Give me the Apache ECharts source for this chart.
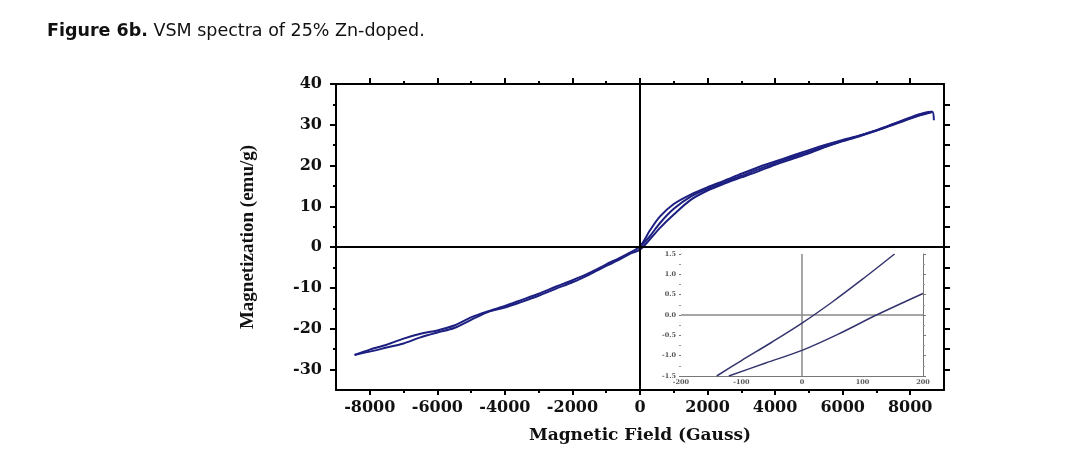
<!DOCTYPE html>
<html>
<head>
<meta charset="utf-8">
<script src="https://cdn.jsdelivr.net/npm/echarts@6/dist/echarts.min.js"></script>
<style>html,body{margin:0;padding:0;background:#fff;}#c{width:1086px;height:472px;}</style>
</head>
<body>
<div id="c"></div>
<script>
// ---- Main hysteresis loop (Magnetic Field in Gauss, Magnetization in emu/g) ----
const fieldDesc = [8650, 8400, 8000, 7500, 7000, 6500, 6000, 5500, 5000, 4500, 4000, 3500, 3000, 2500, 2000, 1500, 1000, 600, 300, 0, -300, -600, -1000, -1500, -2000, -2500, -3000, -3500, -4000, -4500, -5000, -5500, -6000, -6500, -7000, -7500, -8000, -8450];
const magDesc   = [33.2, 32.7, 31.5, 30.0, 28.6, 27.4, 26.3, 25.1, 23.8, 22.4, 21.0, 19.6, 18.0, 16.3, 14.7, 12.9, 10.6, 7.6, 4.2, 0.2, -1.3, -2.6, -4.2, -6.3, -8.1, -9.7, -11.4, -12.9, -14.4, -15.7, -17.2, -19.2, -20.4, -21.2, -22.4, -23.9, -25.1, -26.4];
const fieldAsc  = [-8450, -8000, -7500, -7000, -6500, -6000, -5500, -5000, -4500, -4000, -3500, -3000, -2500, -2000, -1500, -1000, -600, -300, 0, 300, 600, 1000, 1500, 2000, 2500, 3000, 3500, 4000, 4500, 5000, 5500, 6000, 6500, 7000, 7500, 8000, 8400, 8650, 8700];
const magAsc    = [-26.4, -25.6, -24.6, -23.6, -22.1, -20.9, -19.8, -17.8, -15.9, -14.8, -13.4, -11.9, -10.2, -8.6, -6.7, -4.6, -3.0, -1.6, -0.6, 2.0, 4.8, 8.0, 11.6, 13.9, 15.6, 17.1, 18.6, 20.2, 21.6, 23.0, 24.6, 26.0, 27.2, 28.6, 30.2, 31.8, 32.9, 33.2, 31.1];
const fieldInit = [0, 300, 600, 1000, 1500, 2000, 3000, 4000, 5000, 6000, 7000, 8000, 8650];
const magInit   = [0, 2.8, 6.0, 9.4, 12.4, 14.3, 17.5, 20.6, 23.4, 26.0, 28.7, 31.6, 33.1];

// ---- Inset (zoom near origin) ----
const insetFieldA = [-141, -100, -50, 0, 50, 100, 153];
const insetMagA   = [-1.5, -1.12, -0.67, -0.2, 0.32, 0.88, 1.5];
const insetFieldB = [-121, -60, 0, 60, 123, 200];
const insetMagB   = [-1.5, -1.18, -0.87, -0.47, 0.0, 0.53];

// ---- Tick labels ----
const xTickLabels = [-8000, -6000, -4000, -2000, 0, 2000, 4000, 6000, 8000];
const xMinorTicks = [-7000, -5000, -3000, -1000, 1000, 3000, 5000, 7000];
const yTickLabels = [-30, -20, -10, 0, 10, 20, 30, 40];
const yMinorTicks = [-25, -15, -5, 5, 15, 25, 35];
const yRightTicks = [-30, -25, -20, -15, -10, -5, 0, 5, 10, 15, 20, 25, 30, 35];
const insetXTicks = [-200, -100, 0, 100, 200];
const insetYTicks = [-1.5, -1.0, -0.5, 0.0, 0.5, 1.0, 1.5];

const zip = (a, b) => a.map((v, i) => [v, b[i]]);

const lineColor = '#1c1f80';
const serif = 'DejaVu Serif';
const black = '#000';

function xAx(opts) {
  return Object.assign({
    type: 'value', gridIndex: 0, min: -9000, max: 9000,
    axisLine: { show: false, onZero: false },
    splitLine: { show: false },
    axisLabel: { show: false },
    axisTick: { show: false }
  }, opts);
}
function yAx(opts) {
  return Object.assign({
    type: 'value', gridIndex: 0, min: -35, max: 40,
    axisLine: { show: false, onZero: false },
    splitLine: { show: false },
    axisLabel: { show: false },
    axisTick: { show: false }
  }, opts);
}

const chart = echarts.init(document.getElementById('c'), null, { renderer: 'canvas' });
chart.setOption({
  animation: false,
  backgroundColor: '#fff',
  title: {
    left: 42, top: 17,
    text: '{b|Figure 6b.}{n| VSM spectra of 25% Zn-doped.}',
    textStyle: {
      rich: {
        b: { fontFamily: 'DejaVu Sans', fontWeight: 'bold', fontSize: 17.5, color: '#111' },
        n: { fontFamily: 'DejaVu Sans', fontWeight: 'normal', fontSize: 17.5, color: '#111' }
      }
    }
  },
  grid: [
    { left: 336, top: 84, width: 608, height: 306, show: false },
    { left: 681, top: 254, width: 242, height: 122, show: true, backgroundColor: '#fff', borderWidth: 0, z: 5 }
  ],
  xAxis: [
    // 0: bottom main axis with labels and major ticks
    xAx({
      position: 'bottom',
      name: 'Magnetic Field (Gauss)', nameLocation: 'middle', nameGap: 37,
      nameTextStyle: { fontFamily: serif, fontWeight: 'bold', fontSize: 17, color: '#111' },
      axisLine: { show: true, onZero: false, lineStyle: { color: black, width: 2 } },
      axisTick: { show: true, customValues: xTickLabels, length: 5, lineStyle: { color: black, width: 2 } },
      axisLabel: { show: true, customValues: xTickLabels, margin: 10, fontFamily: serif, fontWeight: 'bold', fontSize: 16, color: '#111',
        formatter: v => String(v) }
    }),
    // 1: bottom minor ticks
    xAx({ position: 'bottom', axisTick: { show: true, customValues: xMinorTicks, length: 3, lineStyle: { color: black, width: 2 } } }),
    // 2: top major ticks
    xAx({ position: 'top',
      axisLine: { show: true, onZero: false, lineStyle: { color: black, width: 2 } },
      axisTick: { show: true, customValues: xTickLabels, length: 6, lineStyle: { color: black, width: 2 } } }),
    // 3: top minor ticks
    xAx({ position: 'top', axisTick: { show: true, customValues: xMinorTicks, length: 3, lineStyle: { color: black, width: 2 } } }),
    // 4: inset bottom
    {
      type: 'value', gridIndex: 1, min: -200, max: 200, position: 'bottom',
      axisLine: { show: true, onZero: false, lineStyle: { color: '#777', width: 1 } },
      splitLine: { show: false },
      axisTick: { show: true, customValues: insetXTicks, length: 2, inside: true, lineStyle: { color: '#777' } },
      axisLabel: { show: true, customValues: insetXTicks, margin: 3, fontFamily: serif, fontWeight: 'bold', fontSize: 6.5, color: '#555',
        formatter: v => String(v) }
    },
    // 5: inset top
    {
      type: 'value', gridIndex: 1, min: -200, max: 200, interval: 50, position: 'top',
      axisLine: { show: true, onZero: false, lineStyle: { color: '#777', width: 1 } },
      splitLine: { show: false },
      axisTick: { show: true, length: 2, inside: true, lineStyle: { color: '#777' } },
      axisLabel: { show: false }
    }
  ],
  yAxis: [
    // 0: left main axis
    yAx({
      position: 'left',
      name: 'Magnetization (emu/g)', nameLocation: 'middle', nameGap: 78, nameRotate: 90,
      nameTextStyle: { fontFamily: 'Liberation Serif', fontWeight: 'bold', fontSize: 19, color: '#111' },
      axisLine: { show: true, onZero: false, lineStyle: { color: black, width: 2 } },
      axisTick: { show: true, customValues: yTickLabels, length: 6, lineStyle: { color: black, width: 2 } },
      axisLabel: { show: true, customValues: yTickLabels, margin: 14, fontFamily: serif, fontWeight: 'bold', fontSize: 16, color: '#111',
        formatter: v => String(v) }
    }),
    // 1: left minor ticks
    yAx({ position: 'left', axisTick: { show: true, customValues: yMinorTicks, length: 3, lineStyle: { color: black, width: 2 } } }),
    // 2: right axis
    yAx({ position: 'right',
      axisLine: { show: true, onZero: false, lineStyle: { color: black, width: 2 } },
      axisTick: { show: true, customValues: yRightTicks, length: 6, lineStyle: { color: black, width: 2 } } }),
    // 3: inset left
    {
      type: 'value', gridIndex: 1, min: -1.5, max: 1.5, interval: 0.5, position: 'left',
      axisLine: { show: true, onZero: false, lineStyle: { color: '#777', width: 1 } },
      splitLine: { show: false },
      axisTick: { show: true, length: 2, lineStyle: { color: '#777' } },
      minorTick: { show: true, splitNumber: 2, length: 2, lineStyle: { color: '#999' } },
      axisLabel: { show: true, margin: 5, fontFamily: serif, fontWeight: 'bold', fontSize: 6.5, color: '#555',
        formatter: v => (insetYTicks.indexOf(v) >= 0 ? v.toFixed(1) : '') }
    },
    // 4: inset right
    {
      type: 'value', gridIndex: 1, min: -1.5, max: 1.5, interval: 0.5, position: 'right',
      axisLine: { show: true, onZero: false, lineStyle: { color: '#777', width: 1 } },
      splitLine: { show: false },
      axisTick: { show: true, length: 3, lineStyle: { color: '#777' } },
      minorTick: { show: true, splitNumber: 2, length: 2, lineStyle: { color: '#999' } },
      axisLabel: { show: false }
    }
  ],
  series: [
    {
      type: 'line', xAxisIndex: 0, yAxisIndex: 0, data: zip(fieldDesc, magDesc),
      smooth: 0.3, showSymbol: false, lineStyle: { color: lineColor, width: 2 }, z: 3,
      markLine: {
        silent: true, symbol: ['none', 'none'], label: { show: false }, animation: false,
        lineStyle: { color: black, width: 2, type: 'solid' },
        emphasis: { disabled: true },
        data: [{ xAxis: 0 }, { yAxis: 0 }]
      }
    },
    { type: 'line', xAxisIndex: 0, yAxisIndex: 0, data: zip(fieldAsc, magAsc),
      smooth: 0.3, showSymbol: false, lineStyle: { color: lineColor, width: 2 }, z: 3 },
    { type: 'line', xAxisIndex: 0, yAxisIndex: 0, data: zip(fieldInit, magInit),
      smooth: 0.3, showSymbol: false, lineStyle: { color: lineColor, width: 2 }, z: 3 },
    {
      type: 'line', xAxisIndex: 4, yAxisIndex: 3, data: zip(insetFieldA, insetMagA),
      smooth: 0.3, showSymbol: false, lineStyle: { color: '#34346e', width: 1.5 }, z: 8,
      markLine: {
        silent: true, symbol: ['none', 'none'], label: { show: false }, animation: false,
        lineStyle: { color: '#888', width: 1.5, type: 'solid' },
        emphasis: { disabled: true },
        data: [{ xAxis: 0 }, { yAxis: 0 }]
      }
    },
    { type: 'line', xAxisIndex: 4, yAxisIndex: 3, data: zip(insetFieldB, insetMagB),
      smooth: 0.3, showSymbol: false, lineStyle: { color: '#34346e', width: 1.5 }, z: 8 }
  ]
});
</script>
</body>
</html>
